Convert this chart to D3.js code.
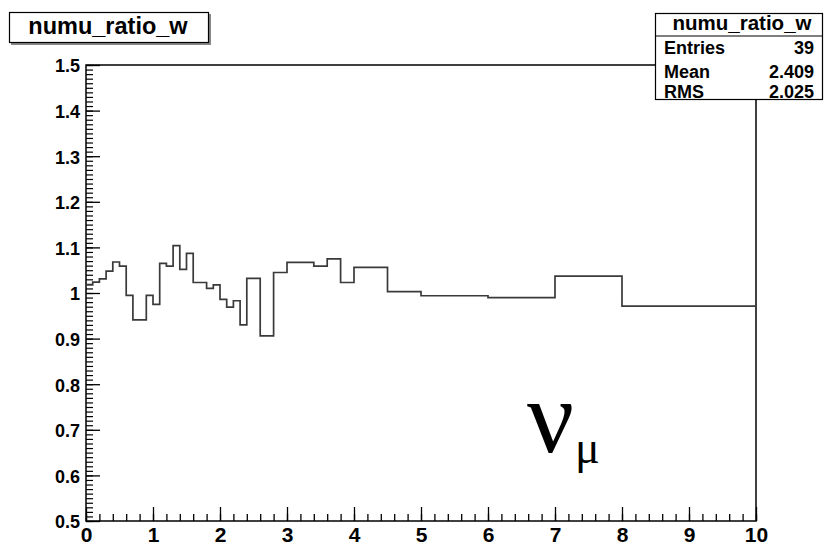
<!DOCTYPE html>
<html><head><meta charset="utf-8">
<script src="https://cdn.jsdelivr.net/npm/d3@7"></script>
<style>
html,body{margin:0;padding:0;background:#fff;}
svg{display:block;}
</style></head>
<body>
<svg id="c" width="826" height="548"></svg>
<script>
// ---- data ----
const binEdges = [0,0.1,0.2,0.3,0.4,0.5,0.6,0.7,0.9,1.0,1.1,1.2,1.3,1.4,1.5,1.6,1.8,1.9,2.0,2.1,2.2,2.3,2.4,2.6,2.8,3.0,3.4,3.6,3.8,4.0,4.5,5.0,6.0,7.0,8.0,10.0];
const binValues = [1.018,1.024,1.031,1.048,1.068,1.059,0.995,0.941,0.995,0.975,1.065,1.059,1.104,1.052,1.087,1.023,1.010,1.018,0.986,0.969,0.983,0.930,1.032,0.906,1.045,1.067,1.059,1.075,1.023,1.056,1.003,0.994,0.990,1.037,0.971];
const xTicks = [0,1,2,3,4,5,6,7,8,9,10];
const xTickLabels = ["0","1","2","3","4","5","6","7","8","9","10"];
const yTicks = [0.5,0.6,0.7,0.8,0.9,1.0,1.1,1.2,1.3,1.4,1.5];
const yTickLabels = ["0.5","0.6","0.7","0.8","0.9","1","1.1","1.2","1.3","1.4","1.5"];
const histName = "numu_ratio_w";
const statLabels = ["Entries","Mean","RMS"];
const statValues = ["39","2.409","2.025"];

// ---- drawing ----
const SANS = "'Liberation Sans', Arial, Helvetica, sans-serif";
const SERIF = "'Liberation Serif', 'Times New Roman', serif";
const svg = d3.select("#c");
const x = d3.scaleLinear().domain([0,10]).range([86,756]);
const y = d3.scaleLinear().domain([0.5,1.5]).range([521,65]);

function boldText(sel, size){
  return sel.style("font-family",SANS).style("font-weight","bold").style("font-size",size+"px").attr("fill","#000");
}

// minor ticks
const xMinor = d3.range(0,10.0001,0.2).map(v=>+v.toFixed(2));
const yMinor = d3.range(0.5,1.5001,0.01).map(v=>+v.toFixed(3));

svg.append("g").attr("transform","translate(0,521)")
  .call(d3.axisBottom(x).tickValues(xMinor).tickSizeInner(-7).tickSizeOuter(0).tickFormat(""))
  .call(g=>g.select(".domain").remove())
  .call(g=>g.selectAll("line").attr("stroke","#000").attr("stroke-width",1.3));
svg.append("g").attr("transform","translate(86,0)")
  .call(d3.axisLeft(y).tickValues(yMinor).tickSizeInner(-7).tickSizeOuter(0).tickFormat(""))
  .call(g=>g.select(".domain").remove())
  .call(g=>g.selectAll("line").attr("stroke","#000").attr("stroke-width",1.2));

// major ticks + labels
svg.append("g").attr("transform","translate(0,521)")
  .call(d3.axisBottom(x).tickValues(xTicks).tickSizeInner(-14).tickSizeOuter(0).tickPadding(6)
        .tickFormat((d,i)=>xTickLabels[i]))
  .call(g=>g.select(".domain").remove())
  .call(g=>g.selectAll("line").attr("stroke","#000").attr("stroke-width",1.3))
  .call(g=>boldText(g.selectAll("text"),21));
svg.append("g").attr("transform","translate(86,0)")
  .call(d3.axisLeft(y).tickValues(yTicks).tickSizeInner(-14).tickSizeOuter(0).tickPadding(6)
        .tickFormat((d,i)=>yTickLabels[i]))
  .call(g=>g.select(".domain").remove())
  .call(g=>g.selectAll("line").attr("stroke","#000").attr("stroke-width",1.3))
  .call(g=>boldText(g.selectAll("text"),18).attr("dy","0.38em"));

// frame
svg.append("rect").attr("x",x(0)).attr("y",y(1.5)).attr("width",x(10)-x(0)).attr("height",y(0.5)-y(1.5))
  .attr("fill","none").attr("stroke","#000").attr("stroke-width",1.5);

// histogram
const pts = binValues.map((v,i)=>[binEdges[i],v]);
pts.push([binEdges[binEdges.length-1], binValues[binValues.length-1]]);
svg.append("path").datum(pts)
  .attr("d", d3.line().x(d=>x(d[0])).y(d=>y(d[1])).curve(d3.curveStepAfter))
  .attr("fill","none").attr("stroke","#3a3a3a").attr("stroke-width",1.7);

// title box
svg.append("rect").attr("x",11).attr("y",14).attr("width",200).attr("height",31).attr("fill","#888");
svg.append("rect").attr("x",9.5).attr("y",12.5).attr("width",199).attr("height",30).attr("fill","#fff").attr("stroke","#000").attr("stroke-width",1.2);
boldText(svg.append("text").attr("x",108).attr("y",34).attr("text-anchor","middle"),23.5).text(histName);

// stats box
svg.append("rect").attr("x",655.5).attr("y",13.5).attr("width",167).attr("height",86).attr("fill","#fff").attr("stroke","#000").attr("stroke-width",1.2);
svg.append("line").attr("x1",655.5).attr("x2",822.5).attr("y1",36).attr("y2",36).attr("stroke","#000").attr("stroke-width",1.2);
boldText(svg.append("text").attr("x",742).attr("y",30).attr("text-anchor","middle"),20.5).text(histName);
const rowY = [54,78,98];
statLabels.forEach((s,i)=>{
  boldText(svg.append("text").attr("x",664).attr("y",rowY[i]),18).text(s);
  boldText(svg.append("text").attr("x",814).attr("y",rowY[i]).attr("text-anchor","end"),18).text(statValues[i]);
});

// nu_mu label
svg.append("text").attr("x",527).attr("y",452)
  .style("font-family",SERIF).style("font-weight","normal").style("font-size","104px").attr("fill","#000").text("ν");
svg.append("text").attr("x",575).attr("y",463)
  .style("font-family",SERIF).style("font-weight","normal").style("font-size","46px").attr("fill","#000").text("μ");
</script>
</body></html>
